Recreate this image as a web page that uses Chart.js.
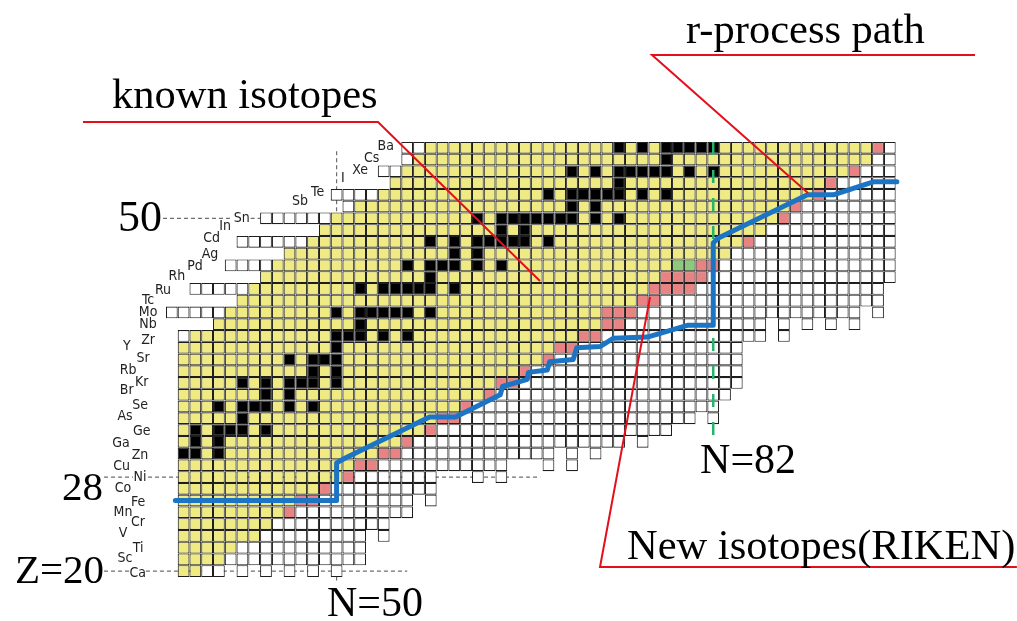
<!DOCTYPE html>
<html>
<head>
<meta charset="utf-8">
<title>Known isotopes, new isotopes and the r-process path</title>
<script src="https://cdn.jsdelivr.net/npm/chart.js@4.4.1/dist/chart.umd.min.js"></script>
<style>
  html, body { margin: 0; padding: 0; background: #fff; }
  #wrap { width: 1017px; height: 621px; position: relative; }
</style>
</head>
<body>
<div id="wrap"><canvas id="chart"></canvas></div>
<script>
// ============================================================
// DATA  (Z = proton number, N = neutron number)
// ============================================================

const ELEMENTS = ['Ca','Sc','Ti','V','Cr','Mn','Fe','Co','Ni','Cu','Zn','Ga','Ge','As','Se','Br','Kr','Rb','Sr',
  'Y','Zr','Nb','Mo','Tc','Ru','Rh','Pd','Ag','Cd','In','Sn','Sb','Te','I','Xe','Cs','Ba'];
const ROW_Z = [20,21,22,23,24,25,26,27,28,29,30,31,32,33,34,35,36,37,38,39,40,41,42,43,44,45,46,47,48,49,50,51,52,53,54,55,56];

// first drawn cell, first known isotope, last known isotope (per row)
const ROW_FIRST_N   = [37,37,37,37,37,37,37,37,37,37,37,37,37,37,37,37,37,37,37,37,37,40,36,42,38,44,41,46,42,49,44,51,50,55,54,56,56];
const KNOWN_FIRST_N = [37,37,37,37,37,37,37,37,37,37,37,37,37,37,37,37,37,37,37,37,38,40,41,42,43,44,45,46,48,49,50,52,54,55,56,57,58];
const KNOWN_LAST_N  = [38,40,41,43,44,45,46,48,50,51,53,55,57,58,60,62,63,65,67,68,70,72,72,75,76,77,78,83,84,86,87,88,90,91,93,95,95];

// stable isotopes (black), neutron numbers per row
const STABLE_N = [
  [],[],[],[],[],[],[],[],[],[],
  [37,38,40],[38,40],[38,40,41,42,44],[42],[40,42,43,44,46,48],[44,46],[42,44,46,47,48,50],[48,50],[46,48,49,50],[50],
  [50,51,52,54,56],[52],[50,52,53,54,55,56,58],[],[52,54,55,56,57,58,60],[58],[56,58,59,60,62,64],[60,62],
  [58,60,62,63,64,65,66,68],[64,66],[62,64,65,66,67,68,69,70,72,74],[70,72],[68,70,71,72,73,74,76,78],[74],
  [70,72,74,75,76,77,78,80,82],[78],[74,76,78,79,80,81,82]
];

// new isotopes (RIKEN), red cells, neutron numbers per row
const NEW_N = [
  [],[],[],[],[],[46],[47,48],[49],[51],[52,53],[54,55],[56],[58],[59,60],[61],[63],[64,65],[66],[68],[69,70],
  [71,72],[73,74],[73,74,75],[76,77],[77,78,79,80],[78,79,80,81],[81,82],[],[85],[],[88],[89],[91],[92],[94],[],[96]
];
// green cells
const GREEN_N = [
  [],[],[],[],[],[],[],[],[],[],[],[],[],[],[],[],[],[],[],[],[],[],[],[],[],[],[79,80],[],[],[],[],[],[],[],[],[],[]
];

// columns N = 37..97 : lowest Z drawn (white, unknown region)
const COL_N = [37,38,39,40,41,42,43,44,45,46,47,48,49,50,51,52,53,54,55,56,57,58,59,60,61,62,63,64,65,66,67,
  68,69,70,71,72,73,74,75,76,77,78,79,80,81,82,83,84,85,86,87,88,89,90,91,92,93,94,95,96,97];
const COL_BOTTOM_Z = [20,20,20,20,21,20,21,20,21,20,21,20,21,20,21,21,24,23,25,25,27,26,29,29,29,28,29,28,30,30,30,
  29,31,29,31,30,31,31,32,31,32,32,33,33,34,33,35,36,40,40,42,40,42,41,42,41,42,41,43,42,45];

// r-process path
const RPATH_N = [36.3,50.0,50.0,50.7,57.9,60.1,63.9,64.1,66.2,66.3,67.9,68.1,70.1,70.4,72.4,73.5,76.4,79.8,82.0,82.0,82.4,90.0,92.2,95.6,97.6];
const RPATH_Z = [26.0,26.0,29.2,29.6,33.1,33.1,35.0,35.7,36.3,36.9,37.1,37.8,38.0,39.0,39.1,39.8,39.9,40.9,40.9,47.9,48.3,52.0,52.0,53.1,53.1];

// element symbol anchors (N, Z)
const SYMBOL_N = [33.10,32.02,33.13,31.85,33.13,31.85,33.13,31.85,33.30,31.74,33.30,31.68,33.44,32.02,33.30,32.17,33.44,32.28,33.55,
  32.17,33.98,33.98,33.98,33.98,35.25,36.42,37.97,39.24,39.39,40.52,41.94,46.89,48.39,50.54,51.99,52.98,54.17];
const SYMBOL_Z = [19.84,21.12,21.97,23.24,24.18,25.03,25.88,27.07,27.94,28.88,29.87,30.89,31.86,33.13,34.13,35.34,36.02,37.10,38.12,
  39.14,39.65,41.01,41.97,42.99,43.90,45.04,45.89,46.97,48.30,49.29,50.03,51.41,52.18,53.43,54.11,55.10,56.09];

// ============================================================
// BUILD CELLS
// ============================================================

const colBottom = n => { const i = COL_N.indexOf(n); return i < 0 ? 99 : COL_BOTTOM_Z[i]; };
const cells = { white: [], known: [], stable: [], fresh: [], green: [] };

ROW_Z.forEach((z, i) => {
  const lastN = COL_N[COL_N.length - 1];
  for (let n = ROW_FIRST_N[i]; n <= lastN; n++) {
    const cell = { x: [n - 0.5, n + 0.5], y: z };
    if (n < KNOWN_FIRST_N[i]) cells.white.push(cell);
    else if (n <= KNOWN_LAST_N[i]) (STABLE_N[i].includes(n) ? cells.stable : cells.known).push(cell);
    else if (NEW_N[i].includes(n)) cells.fresh.push(cell);
    else if (GREEN_N[i].includes(n)) cells.green.push(cell);
    else if (colBottom(n) <= z) cells.white.push(cell);
  }
});

const cellSet = (data, color) => ({
  type: 'bar', indexAxis: 'y', data, order: 10,
  backgroundColor: color, borderColor: '#1e1e1e', borderWidth: 1.1, borderSkipped: false,
  grouped: false, barPercentage: 1, categoryPercentage: 1, inflateAmount: 0
});

const segment = (pts, color, width, dash, order) => ({
  type: 'line', data: pts.map(([x, y]) => ({ x, y })), order,
  borderColor: color, borderWidth: width, borderDash: dash || [],
  pointRadius: 0, fill: false, tension: 0
});

const GUIDE = '#6e6e6e';
const CALLOUT = '#e3101c';

const datasets = [
  cellSet(cells.white, '#ffffff'),
  cellSet(cells.known, '#f0ea82'),
  cellSet(cells.stable, '#000000'),
  cellSet(cells.fresh, '#e98383'),
  cellSet(cells.green, '#8cc97a'),
  // dashed guides (behind cells)
  segment([[35.25, 50], [41.1, 50]], GUIDE, 1.2, [4, 3], 20),
  segment([[42.7, 50], [43.5, 50]], GUIDE, 1.2, [4, 3], 20),
  segment([[50, 55.7], [50, 50.5]], GUIDE, 1.2, [4, 3], 20),
  segment([[30.24, 28], [32.7, 28]], GUIDE, 1.2, [4, 3], 20),
  segment([[33.98, 28], [67.3, 28]], GUIDE, 1.2, [4, 3], 20),
  segment([[30.24, 20], [32.5, 20]], GUIDE, 1.2, [4, 3], 20),
  segment([[33.8, 20], [56.0, 20]], GUIDE, 1.2, [4, 3], 20),
  segment([[50, 19.5], [50, 19.2]], GUIDE, 1.2, [], 20),
  // N = 82 shell line
  segment([[82, 56.5], [82, 31.0]], '#27b36a', 2.5, [13, 15], 5),
  // r-process path
  {
    type: 'line', order: 2,
    data: RPATH_N.map((n, i) => ({ x: n, y: RPATH_Z[i] })),
    borderColor: '#1b74c4', borderWidth: 5, pointRadius: 0, fill: false, tension: 0,
    borderJoinStyle: 'round', borderCapStyle: 'round'
  },
  // callouts
  segment([[28.45, 58.19], [53.52, 58.19], [67.28, 44.67]], CALLOUT, 2, [], 0),
  segment([[104.24, 63.89], [76.80, 63.89], [90.05, 52.15]], CALLOUT, 2, [], 0),
  segment([[107.8, 20.35], [72.38, 20.35], [76.63, 43.31]], CALLOUT, 2, [], 0)
];

// ============================================================
// TEXT LABELS
// ============================================================

const TITLES = [
  { text: 'known isotopes', n: 30.92, z: 59.38, size: 42.5 },
  { text: 'r-process path', n: 79.69, z: 64.91, size: 42.5 },
  { text: 'New isotopes(RIKEN)', n: 74.67, z: 21.03, size: 42.5 },
  { text: 'N=82', n: 80.88, z: 28.34, size: 42 },
  { text: 'N=50', n: 49.18, z: 16.18, size: 42 },
  { text: '50', n: 31.43, z: 48.92, size: 44 },
  { text: '28', n: 26.67, z: 26.05, size: 41 },
  { text: 'Z=20', n: 22.67, z: 18.99, size: 41 }
];

const textPlugin = {
  id: 'chartText',
  afterDatasetsDraw(chart) {
    const { ctx, scales: { x, y } } = chart;
    ctx.save();
    ctx.fillStyle = '#222';
    ctx.font = '14px "Liberation Sans Narrow", "DejaVu Sans Condensed", "Liberation Sans", sans-serif';
    ctx.textAlign = 'center';
    ctx.textBaseline = 'middle';
    ELEMENTS.forEach((sym, i) => {
      ctx.fillText(sym, x.getPixelForValue(SYMBOL_N[i]), y.getPixelForValue(SYMBOL_Z[i]));
    });

    ctx.fillStyle = '#000';
    ctx.textAlign = 'left';
    ctx.textBaseline = 'alphabetic';
    TITLES.forEach(t => {
      ctx.font = t.size + 'px "Liberation Serif", "Times New Roman", serif';
      ctx.fillText(t.text, x.getPixelForValue(t.n), y.getPixelForValue(t.z));
    });
    ctx.restore();
  }
};

new Chart(document.getElementById('chart'), {
  type: 'bar',
  data: { datasets },
  options: {
    responsive: true,
    maintainAspectRatio: false,
    animation: false,
    events: [],
    layout: { padding: 0 },
    plugins: { legend: { display: false }, tooltip: { enabled: false } },
    scales: {
      x: { type: 'linear', min: 21.402, max: 107.808, offset: false, display: false },
      y: { type: 'linear', min: 15.759, max: 68.565, offset: false, display: false, ticks: { stepSize: 1 } }
    }
  },
  plugins: [textPlugin]
});
</script>
</body>
</html>
